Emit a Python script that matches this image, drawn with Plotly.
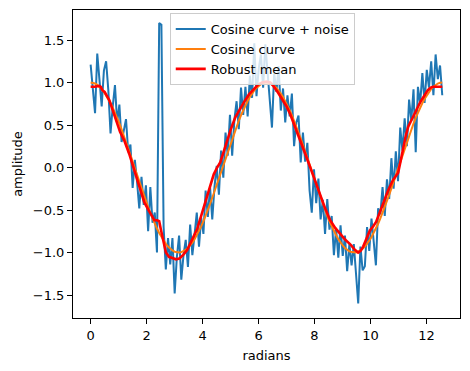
import numpy as np
import plotly.graph_objects as go

# ---- data ----
N_POINTS = 160
X_MAX = 12.566  # 4*pi radians

noisy_values = [
    1.21, 0.95, 0.64, 1.34, 1.00, 0.72, 1.14, 1.25, 0.91, 0.40,
    0.72, 0.97, 0.53, 0.74, 0.30, 0.43, 0.57, 0.18, 0.27, -0.24,
    0.09, -0.17, -0.48, -0.11, -0.44, -0.21, -0.75, -0.23, -0.65, -0.53,
    -1.00, 1.70, 1.68, -0.70, -1.20, -0.83, -1.14, -0.83, -1.48, -1.05,
    -0.80, -1.32, -1.03, -0.85, -1.17, -0.67, -1.03, -0.79, -0.53, -0.93,
    -0.59, -0.78, -0.27, -0.58, -0.23, -0.61, -0.23, 0.02, -0.32, 0.20,
    -0.12, 0.41, 0.14, 0.62, 0.14, 0.56, 0.78, 0.45, 0.94, 0.62,
    0.95, 0.60, 1.08, 0.82, 1.46, 0.84, 1.16, 1.33, 0.94, 1.45,
    1.12, 0.74, 0.47, 1.11, 0.89, 1.19, 0.67, 0.93, 0.53, 0.85,
    0.60, 0.87, 0.25, 0.53, 0.61, 0.06, 0.41, 0.07, 0.29, -0.27,
    -0.53, -0.02, -0.42, -0.13, -0.61, -0.38, -0.78, -0.37, -0.73, -0.57,
    -1.03, -0.72, -1.06, -0.68, -1.04, -0.80, -1.22, -0.90, -1.15, -0.90,
    -1.30, -1.60, -0.93, -1.21, -1.16, -0.70, -0.98, -0.60, -0.87, -1.15,
    -0.48, -0.55, -0.23, -0.57, -0.14, -0.37, 0.11, -0.25, 0.19, -0.16,
    0.47, 0.20, 0.58, 0.25, 0.80, 0.55, 0.92, 0.18, 0.95, 0.75,
    1.11, 0.76, 1.15, 0.94, 1.25, 0.85, 1.33, 1.04, 1.20, 0.85,
]

cosine_values = [
    1.000, 0.997, 0.988, 0.972, 0.950, 0.923, 0.890, 0.851, 0.807, 0.758,
    0.704, 0.646, 0.584, 0.518, 0.449, 0.377, 0.302, 0.225, 0.147, 0.069,
    -0.010, -0.089, -0.167, -0.245, -0.321, -0.394, -0.466, -0.534, -0.599, -0.661,
    -0.718, -0.770, -0.818, -0.861, -0.898, -0.930, -0.956, -0.976, -0.990, -0.998,
    -1.000, -0.995, -0.985, -0.968, -0.946, -0.917, -0.883, -0.843, -0.797, -0.747,
    -0.692, -0.632, -0.569, -0.500, -0.429, -0.355, -0.279, -0.201, -0.123, -0.049,
    0.030, 0.108, 0.186, 0.264, 0.339, 0.413, 0.484, 0.551, 0.615, 0.675,
    0.731, 0.783, 0.829, 0.871, 0.907, 0.937, 0.962, 0.980, 0.993, 0.999,
    0.999, 0.993, 0.980, 0.962, 0.937, 0.907, 0.871, 0.829, 0.783, 0.731,
    0.675, 0.615, 0.551, 0.484, 0.413, 0.339, 0.264, 0.186, 0.108, 0.030,
    -0.049, -0.123, -0.201, -0.279, -0.355, -0.429, -0.500, -0.569, -0.632, -0.692,
    -0.747, -0.797, -0.843, -0.883, -0.917, -0.946, -0.968, -0.985, -0.995, -1.000,
    -0.998, -0.990, -0.976, -0.956, -0.930, -0.898, -0.861, -0.818, -0.770, -0.718,
    -0.661, -0.599, -0.534, -0.466, -0.394, -0.321, -0.245, -0.167, -0.089, -0.010,
    0.069, 0.147, 0.225, 0.302, 0.377, 0.449, 0.518, 0.584, 0.646, 0.704,
    0.758, 0.807, 0.851, 0.890, 0.923, 0.950, 0.972, 0.988, 0.997, 1.000,
]

robust_x = [
    0.0, 0.15, 0.30, 0.36, 0.42, 0.50, 0.67, 0.80, 0.95, 1.05,
    1.20, 1.38, 1.56, 1.74, 1.92, 2.10, 2.28, 2.38, 2.45, 2.51,
    2.60, 2.69, 2.80, 2.90, 3.05, 3.17, 3.30, 3.45, 3.63, 3.81,
    3.95, 4.10, 4.25, 4.40, 4.52, 4.63, 4.75, 4.88, 5.02, 5.17,
    5.32, 5.48, 5.66, 5.84, 6.00, 6.13, 6.28, 6.42, 6.53, 6.70,
    6.88, 7.00, 7.13, 7.31, 7.49, 7.67, 7.85, 8.02, 8.20, 8.38,
    8.56, 8.74, 8.92, 9.10, 9.27, 9.42, 9.56, 9.65, 9.74, 9.86,
    9.98, 10.10, 10.20, 10.32, 10.45, 10.62, 10.80, 10.90, 10.99, 11.08,
    11.17, 11.26, 11.35, 11.50, 11.63, 11.72, 11.80, 11.92, 12.05, 12.15,
    12.24, 12.40, 12.566,
]
robust_y = [
    0.95, 0.95, 0.96, 0.95, 0.91, 0.89, 0.79, 0.66, 0.50, 0.42,
    0.32, 0.16, -0.03, -0.22, -0.41, -0.52, -0.62, -0.62, -0.63, -0.73,
    -0.86, -1.00, -1.05, -1.06, -1.08, -1.07, -1.03, -0.97, -0.85, -0.72,
    -0.57, -0.40, -0.24, -0.08, 0.00, 0.06, 0.18, 0.32, 0.46, 0.59,
    0.68, 0.77, 0.86, 0.93, 0.98, 1.00, 1.01, 1.00, 0.96, 0.88,
    0.79, 0.72, 0.63, 0.48, 0.32, 0.16, 0.00, -0.16, -0.32, -0.48,
    -0.62, -0.71, -0.78, -0.85, -0.90, -0.96, -1.00, -0.98, -0.93, -0.83,
    -0.74, -0.69, -0.64, -0.54, -0.42, -0.28, -0.15, -0.10, -0.06, 0.08,
    0.24, 0.37, 0.48, 0.59, 0.68, 0.73, 0.78, 0.85, 0.91, 0.94,
    0.95, 0.95, 0.95,
]

x_grid = np.linspace(0, X_MAX, N_POINTS)

fig = go.Figure()
fig.add_trace(go.Scatter(x=x_grid, y=noisy_values, mode="lines",
                         name="Cosine curve + noise",
                         line=dict(color="#1f77b4", width=2)))
fig.add_trace(go.Scatter(x=x_grid, y=cosine_values, mode="lines",
                         name="Cosine curve",
                         line=dict(color="#ff7f0e", width=2)))
fig.add_trace(go.Scatter(x=robust_x, y=robust_y, mode="lines",
                         name="Robust mean",
                         line=dict(color="red", width=2.6)))

axis_common = dict(showline=True, linecolor="black", linewidth=1, mirror=True,
                   ticks="outside", ticklen=5, tickcolor="black",
                   showgrid=False, zeroline=False,
                   tickfont=dict(family="DejaVu Sans", size=13, color="black"))

fig.update_layout(
    width=470, height=371,
    margin=dict(l=73, r=10, t=10, b=53),
    plot_bgcolor="white", paper_bgcolor="white",
    font=dict(family="DejaVu Sans", size=13, color="black"),
    xaxis=dict(range=[-0.63, 13.2], tickvals=[0, 2, 4, 6, 8, 10, 12],
               title=dict(text="radians", standoff=9,
                          font=dict(family="DejaVu Sans", size=13)),
               **axis_common),
    yaxis=dict(range=[-1.77, 1.853], tickvals=[-1.5, -1.0, -0.5, 0.0, 0.5, 1.0, 1.5],
               ticktext=["\u22121.5", "\u22121.0", "\u22120.5", "0.0", "0.5", "1.0", "1.5"],
               title=dict(text="amplitude", standoff=7,
                          font=dict(family="DejaVu Sans", size=13)),
               **axis_common),
    legend=dict(x=0.25, y=0.99, xanchor="left", yanchor="top",
                bgcolor="rgba(255,255,255,0.8)", bordercolor="#cccccc", borderwidth=1,
                font=dict(family="DejaVu Sans", size=13)),
    showlegend=True,
)

fig.write_html("out.html", config={"displayModeBar": False},
               post_script="document.body.style.margin='0';")
